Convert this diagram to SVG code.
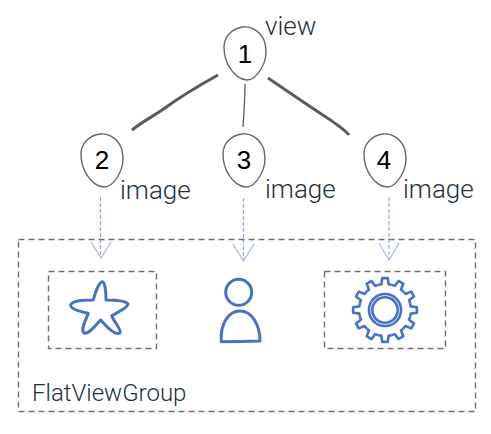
<svg xmlns="http://www.w3.org/2000/svg" xmlns:xlink="http://www.w3.org/1999/xlink" width="491" height="434" viewBox="0 0 491 434">
<style>
.egg{fill:#fff;stroke:#666;stroke-width:1.4}
.num{font:26px "Liberation Sans",Arial,sans-serif;fill:#000;text-anchor:middle}
.lbl{font:300 26px Roboto,"Open Sans",sans-serif;fill:#26303a}
.box{fill:none;stroke:#6f6f6f;stroke-width:1.4;stroke-dasharray:6 4}
.edge{fill:none;stroke:#5a5a5a;stroke-linecap:butt}
.dash{fill:none;stroke:#8faadc;stroke-width:1.2;stroke-dasharray:4 2}
.head{fill:none;stroke:#a9bde6;stroke-width:1.3}
.icon{fill:none;stroke:#4472c4;stroke-width:3;stroke-linejoin:round}
</style>
<defs>
<path id="egg" d="M-2-26C8-27 17-20 20-10C22-1 21 8 16 16C12 23 7 27 2 27C-4 27-11 22-15 15C-19 9-21 2-21-6C-21-17-12-25-2-26Z"/>
<path id="tooth" d="M-6.73-25.11L-3.62-25.75L-2.79-31.88L2.79-31.88L3.62-25.75L6.73-25.11"/>
</defs>
<g id="connectors">
<path class="edge" stroke-width="3" d="M218 75C200 85 180 97 165 108C152 117 142 122 132 130"/>
<path class="edge" stroke-width="1.3" d="M245 84C245 98 244 112 243 127"/>
<path class="edge" stroke-width="2.8" d="M268 78C290 93 315 110 332 121C340 127 345 130 349 135"/>
<path class="dash" d="M100.500 197V258"/>
<path class="head" d="M91 242L101 258L111 242"/>
<path class="dash" d="M243.500 198V260"/>
<path class="head" d="M233 244L243.500 261L254 244"/>
<path class="dash" d="M389 197V259"/>
<path class="head" d="M379 243L389 260L399 243"/>
</g>
<g id="node-1"><use href="#egg" class="egg" transform="translate(245 53)"/><text class="num" x="245" y="63">1</text><text class="lbl" x="265" y="35">view</text></g>
<g id="node-2"><use href="#egg" class="egg" transform="translate(102 160)"/><text class="num" x="102" y="169">2</text><text class="lbl" x="120" y="199">image</text></g>
<g id="node-3"><use href="#egg" class="egg" transform="translate(244 160)"/><text class="num" x="244" y="169">3</text><text class="lbl" x="265" y="198">image</text></g>
<g id="node-4"><use href="#egg" class="egg" transform="translate(385 160)"/><text class="num" x="384" y="169">4</text><text class="lbl" x="403" y="198">image</text></g>
<g id="flat-view-group"><rect class="box" x="18.500" y="239.500" width="457" height="172"/><text class="lbl" x="32" y="401" style="font-size:24px">FlatViewGroup</text></g>
<g id="star-box"><rect class="box" x="48.500" y="271.500" width="108" height="77"/>
<path class="icon" d="M102.300 281.700C105 282 106 292 106 300C113 300 125 300 128 304C128 308 116 313 111.700 315.700C114 322 122 330 120 333C115 336 105 325 100.700 320C96 325 88 335 84 333C80 330 86 320 88.300 313.300C82 312 70 309 70.700 305C72 300 85 300 93.300 300C95 293 99 282 102.300 281.700Z"/></g>
<g id="person"><circle class="icon" cx="238.700" cy="292.300" r="13"/>
<path class="icon" d="M221.300 341.700C220 325 228 311 240 311C252 311 260 325 260 341C247 341.500 234 341.700 221.300 341.700Z"/></g>
<g id="gear-box"><rect class="box" x="324.500" y="271.500" width="121" height="77"/>
<g class="icon" transform="translate(385 310)" style="stroke-width:2.600"><circle r="16"/><circle r="12.700"/>
<use href="#tooth"/><use href="#tooth" transform="rotate(30)"/><use href="#tooth" transform="rotate(60)"/><use href="#tooth" transform="rotate(90)"/><use href="#tooth" transform="rotate(120)"/><use href="#tooth" transform="rotate(150)"/><use href="#tooth" transform="rotate(180)"/><use href="#tooth" transform="rotate(210)"/><use href="#tooth" transform="rotate(240)"/><use href="#tooth" transform="rotate(270)"/><use href="#tooth" transform="rotate(300)"/><use href="#tooth" transform="rotate(330)"/></g></g>
</svg>
